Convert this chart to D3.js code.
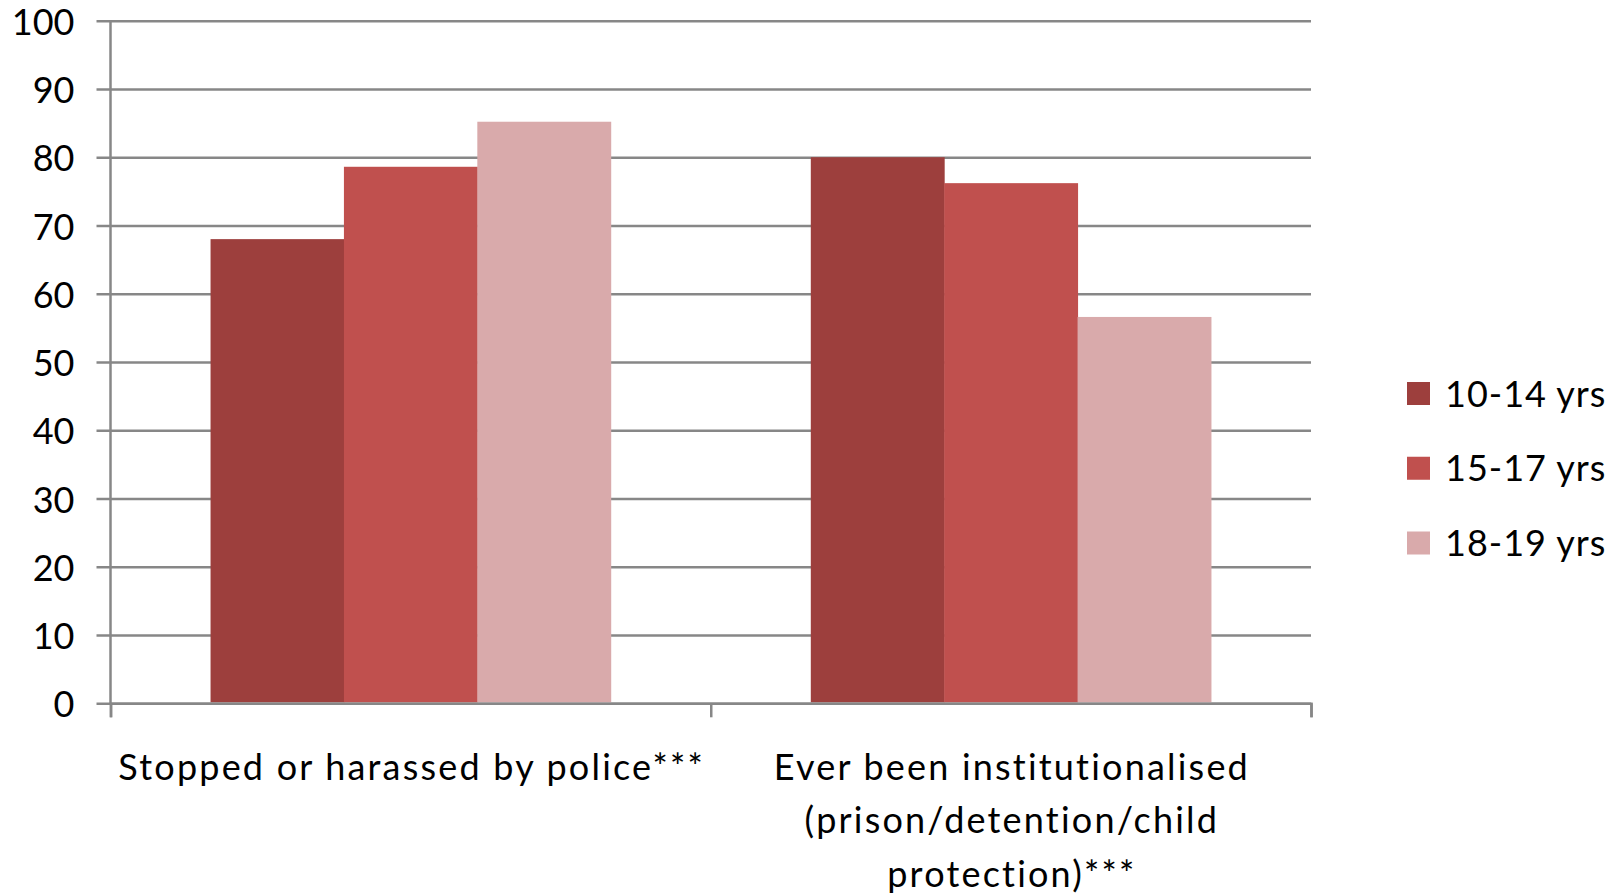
<!DOCTYPE html>
<html>
<head>
<meta charset="utf-8">
<script src="https://cdn.jsdelivr.net/npm/d3@7"></script>
<style>
  html, body { margin: 0; padding: 0; background: #fff; }
  svg { display: block; }
  text { font-family: Lato, "Open Sans", sans-serif; fill: #000; }
</style>
</head>
<body>
<svg id="chart" width="1623" height="895"></svg>
<script>
// ---- data ----
const categories = ["Stopped or harassed by police***", "Ever been institutionalised (prison/detention/child protection)***"];
const categoryLines = [
  ["Stopped or harassed by police***"],
  ["Ever been institutionalised", "(prison/detention/child", "protection)***"]
];
const series = ["10-14 yrs", "15-17 yrs", "18-19 yrs"];
const values1014 = [68, 80];
const values1517 = [78.6, 76.2];
const values1819 = [85.2, 56.6];
const yTicks = [0, 10, 20, 30, 40, 50, 60, 70, 80, 90, 100];
const colors = ["#9D3F3D", "#C0504E", "#D9AAAB"];

const seriesValues = [values1014, values1517, values1819];

// ---- layout ----
const svg = d3.select("#chart");
const plotLeft = 110.5, plotRight = 1311, plotTop = 20.7, plotBottom = 703.3;
const gridColor = "#878787";

const x0 = d3.scaleBand().domain(categories).range([plotLeft, plotRight]).paddingInner(1/3).paddingOuter(1/6);
const x1 = d3.scaleBand().domain(series).range([0, x0.bandwidth()]);
const y = d3.scaleLinear().domain([0, 100]).range([plotBottom, plotTop]);
const color = d3.scaleOrdinal().domain(series).range(colors);

// gridlines + y axis ticks
const yAxis = d3.axisLeft(y).tickValues(yTicks).tickSize(plotRight - plotLeft + 14).tickPadding(22).tickFormat(d3.format("d"));
const gy = svg.append("g").attr("transform", `translate(${plotRight},0)`).call(yAxis);
gy.select(".domain").remove();
gy.selectAll(".tick line").attr("stroke", gridColor).attr("stroke-width", 2.5);
gy.selectAll(".tick text").attr("font-size", 36).attr("font-family", "Lato, sans-serif").attr("fill", "#000").attr("dy", "0.38em");

// bars
const rows = categories.map((c, i) => ({ cat: c, vals: series.map((s, j) => ({ s, v: seriesValues[j][i] })) }));
const groups = svg.append("g").selectAll("g").data(rows).join("g")
  .attr("transform", d => `translate(${x0(d.cat)},0)`);
groups.selectAll("rect").data(d => d.vals).join("rect")
  .attr("x", d => x1(d.s))
  .attr("width", x1.bandwidth() + 0.5)
  .attr("y", d => y(d.v))
  .attr("height", d => y(0) - y(d.v) - 1)
  .attr("fill", d => color(d.s));

// y axis line
svg.append("line").attr("x1", plotLeft).attr("x2", plotLeft).attr("y1", plotTop).attr("y2", plotBottom)
  .attr("stroke", gridColor).attr("stroke-width", 2.5);

// x axis
const xAxisScale = d3.scaleLinear().domain([0, 2]).range([plotLeft, plotRight]);
const gx = svg.append("g").attr("transform", `translate(0,${plotBottom})`)
  .call(d3.axisBottom(xAxisScale).tickValues([0, 1, 2]).tickSize(14).tickFormat(""));
gx.select(".domain").attr("stroke", gridColor).attr("stroke-width", 2.5);
gx.selectAll(".tick line").attr("stroke", gridColor).attr("stroke-width", 2.5);

// category labels
const lab = svg.append("g").selectAll("text").data(categories).join("text")
  .attr("x", d => x0(d) + x0.bandwidth() / 2 + 1)
  .attr("y", 780)
  .attr("text-anchor", "middle")
  .attr("letter-spacing", 2.2)
  .attr("font-size", 36);
lab.selectAll("tspan").data((d, i) => categoryLines[i]).join("tspan")
  .attr("x", function() { return this.parentNode.getAttribute("x"); })
  .attr("dy", (d, i) => i === 0 ? 0 : 53.3)
  .text(d => d);

// legend
const ly = d3.scalePoint().domain(series).range([393.5, 543]);
const leg = svg.append("g").selectAll("g").data(series).join("g")
  .attr("transform", d => `translate(1407,${ly(d)})`);
leg.append("rect").attr("x", 0).attr("y", -11.5).attr("width", 23).attr("height", 23).attr("fill", d => color(d));
leg.append("text").attr("x", 38).attr("y", 13).attr("font-size", 36).attr("letter-spacing", 1).text(d => d);
</script>
</body>
</html>
